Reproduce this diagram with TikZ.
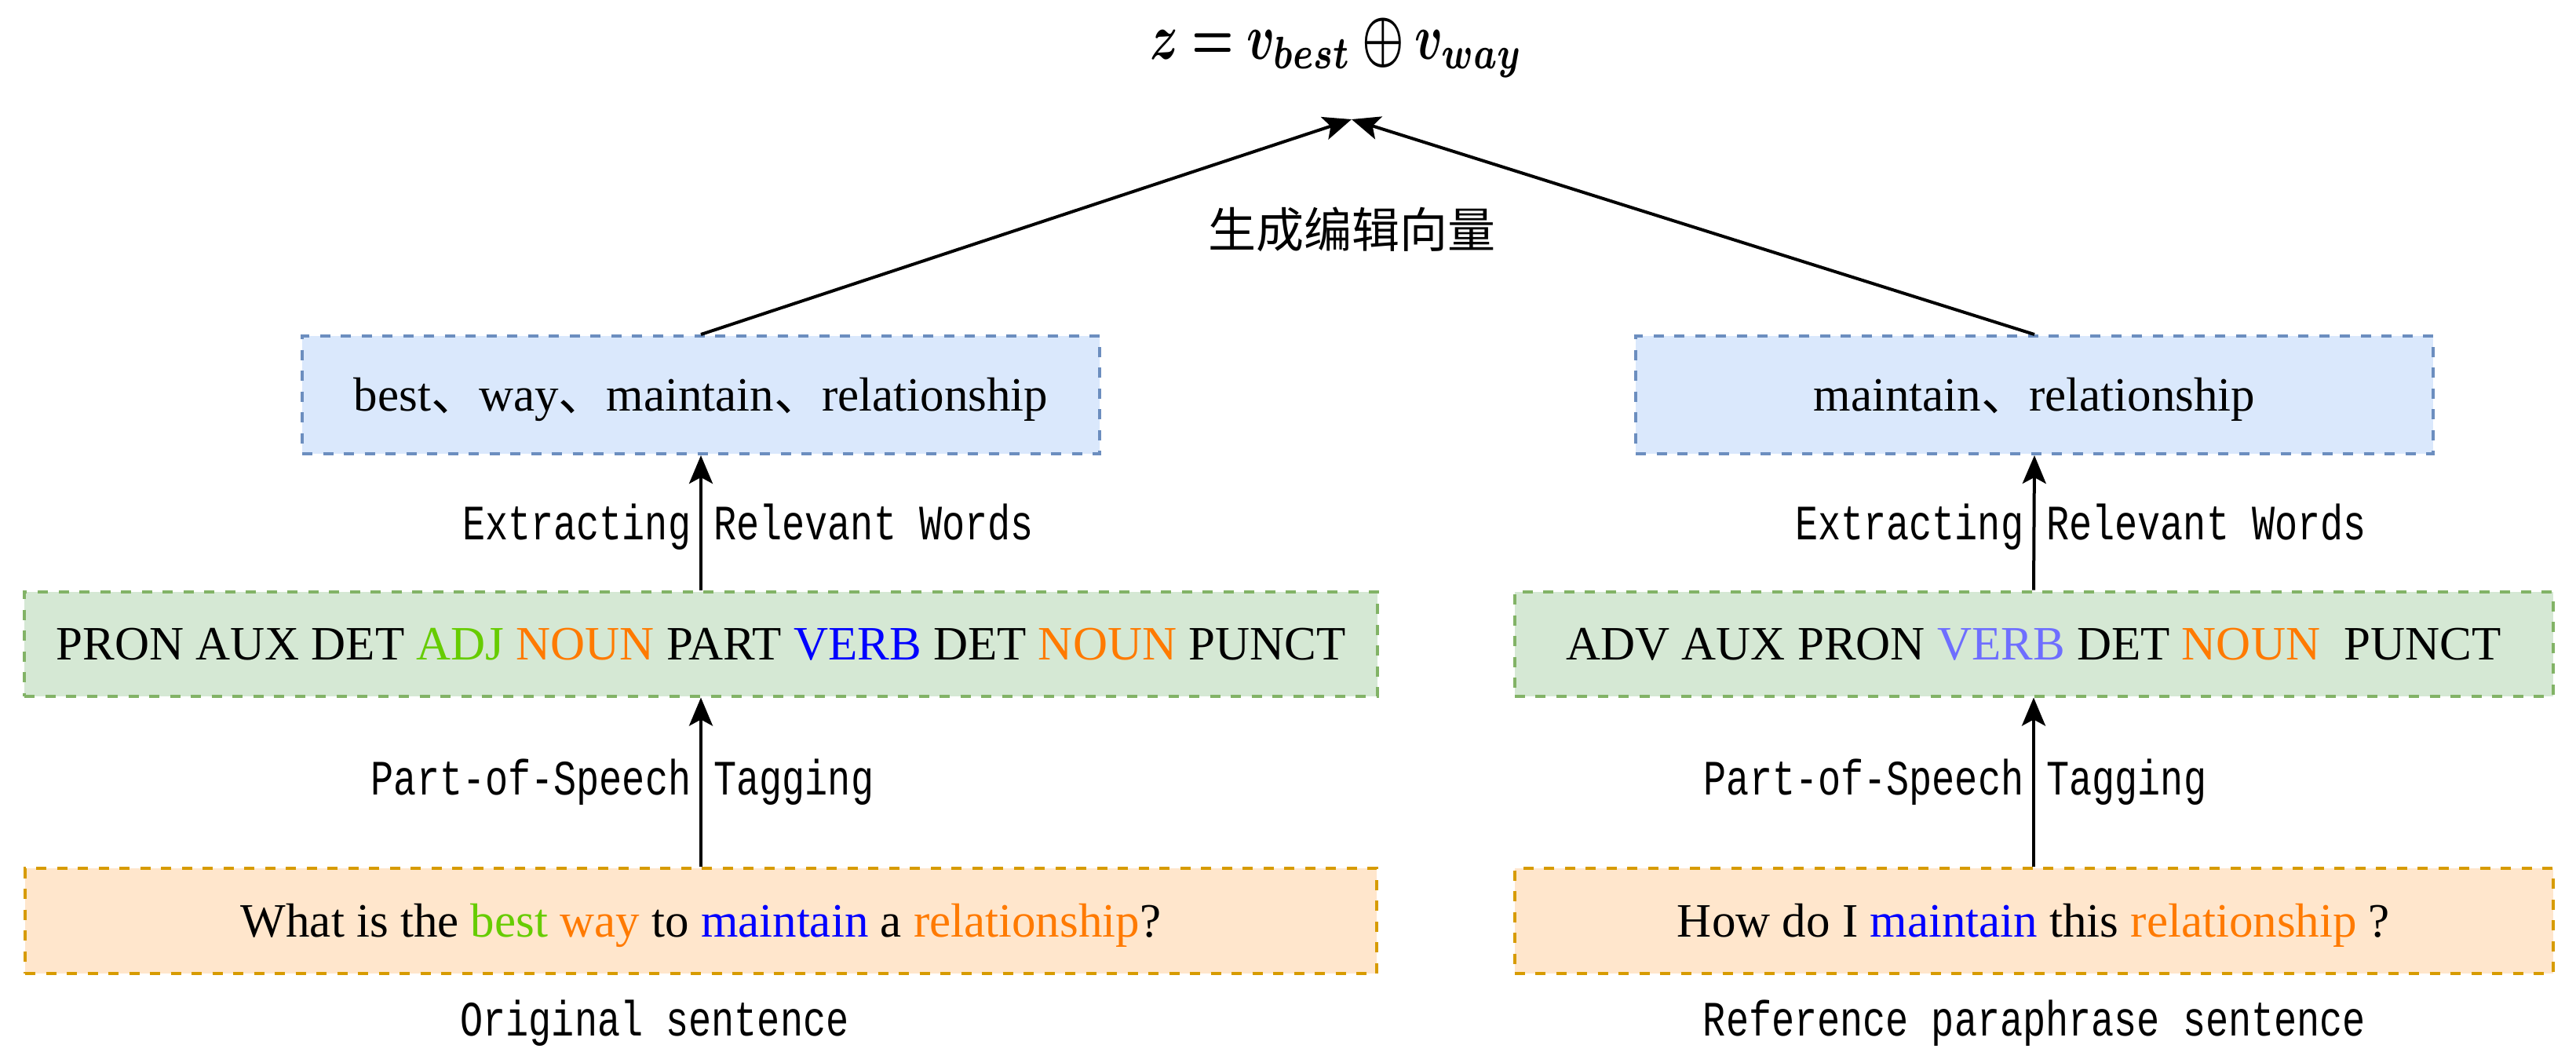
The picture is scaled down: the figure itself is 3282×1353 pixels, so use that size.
\documentclass[tikz,border=0pt]{standalone}
\usepackage{fontspec}
\usepackage{amsmath}
\usepackage{bm}
\usepackage{graphicx}
\setmainfont{Liberation Serif}
\newfontfamily\lblfont[FakeStretch=0.77]{Liberation Mono}
\newfontfamily\cjkfont{Noto Sans CJK SC}
\usetikzlibrary{arrows.meta}
\definecolor{boxblue}{HTML}{6C8EBF}
\definecolor{fillblue}{HTML}{DAE8FC}
\definecolor{boxgreen}{HTML}{82B366}
\definecolor{fillgreen}{HTML}{D5E8D4}
\definecolor{boxorange}{HTML}{D79B00}
\definecolor{fillorange}{HTML}{FFE6CC}
\definecolor{wgreen}{RGB}{102,204,0}
\definecolor{worange}{RGB}{255,122,0}
\definecolor{wblue}{RGB}{0,0,255}
\definecolor{wlblue}{RGB}{110,110,255}
\begin{document}
\begin{tikzpicture}[x=1pt,y=-1pt,
  boxbase/.style={draw, line width=4pt, dash pattern=on 13pt off 13.5pt, inner sep=0pt,
    text height=40pt, text depth=0pt, font=\fontsize{61}{70}\selectfont},
  bluebox/.style={boxbase, draw=boxblue, fill=fillblue, minimum width=1016pt, minimum height=150pt},
  greenbox/.style={boxbase, draw=boxgreen, fill=fillgreen, minimum height=133pt},
  orangebox/.style={boxbase, draw=boxorange, fill=fillorange, minimum height=134pt},
  lbl/.style={font=\lblfont\fontsize{63}{70}\selectfont, anchor=base, inner sep=0pt},
  conn/.style={line width=4pt, -{Stealth[length=36pt,width=30pt,inset=8pt]}}
]
\useasboundingbox (0,0) rectangle (3282,1353);

\node[anchor=base, inner sep=0pt] (eq) at (1703,75)
  {\resizebox{475pt}{!}{\scalebox{1}[1.38]{$\bm{z = v_{best}\oplus v_{way}}$}}};
\coordinate (tip) at (1722,152);
\node[font=\cjkfont\fontsize{61}{70}\selectfont, inner sep=0pt] (gen) at (1722,292) {生成编辑向量};

\node[bluebox] (b1) at (893,503)
  {best{\cjkfont 、}way{\cjkfont 、}maintain{\cjkfont 、}relationship};
\node[bluebox] (b2) at (2592,503)
  {maintain{\cjkfont 、}relationship};

\node[greenbox, minimum width=1724pt] (g1) at (893,820)
  {PRON AUX DET \textcolor{wgreen}{ADJ} \textcolor{worange}{NOUN} PART \textcolor{wblue}{VERB} DET \textcolor{worange}{NOUN} PUNCT};
\node[greenbox, minimum width=1323pt] (g2) at (2591,820)
  {ADV AUX PRON \textcolor{wlblue}{VERB} DET \textcolor{worange}{NOUN}\ \ PUNCT};

\node[orangebox, minimum width=1722pt] (o1) at (893,1173)
  {What is the \textcolor{wgreen}{best} \textcolor{worange}{way} to \textcolor{wblue}{maintain} a \textcolor{worange}{relationship}?};
\node[orangebox, minimum width=1323pt] (o2) at (2591,1173)
  {How do I \textcolor{wblue}{maintain} this \textcolor{worange}{relationship} ?};

\node[lbl] (e1) at (953,687) {Extracting Relevant Words};
\node[lbl] (e2) at (2651,687) {Extracting Relevant Words};
\node[lbl] (p1) at (793,1012) {Part-of-Speech Tagging};
\node[lbl] (p2) at (2491,1012) {Part-of-Speech Tagging};
\node[lbl] (s1) at (834,1319) {Original sentence};
\node[lbl] (s2) at (2592,1319) {Reference paraphrase sentence};

\draw[conn] (o1.north) -- (g1.south);
\draw[conn] (o2.north) -- (g2.south);
\draw[conn] (g1.north) -- (b1.south);
\draw[conn] (g2.north) -- (b2.south);
\draw[conn] (b1.north) -- (tip);
\draw[conn] (b2.north) -- (tip);
\end{tikzpicture}
\end{document}
